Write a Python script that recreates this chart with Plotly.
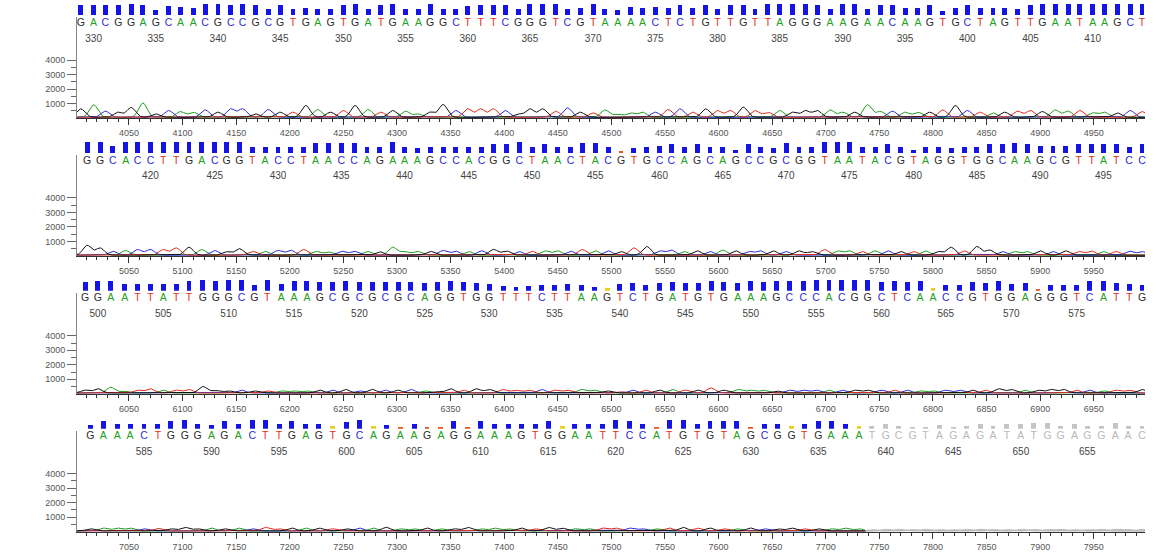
import numpy as np
import plotly.graph_objects as go

W, H = 1157, 555

# ---------------- data ----------------
scan_start = [4000, 5000, 6000, 7000]
first_base = [329, 415, 499, 581]

seq1 = "GACGGAGCAACGCCGCGTGAGTGATGAAGGCTTTCGGGTCGTAAAACTCTGTTGTTAGGGAAGAACAAGTGCTAGTTGAATAAGCT"
seq2 = "GGCACCTTGACGGTACCTAACCAGAAAGCCACGGCTAACTACGTGCCAGCAGCCGCGGTAATACGTAGGTGGCAAGCGTTATCC"
seq3 = "GGAATTATTGGGCGTAAAGCGCGCGCAGGTGGTTTCTTAAGTCTGATGTGAAAGCCCACGGCTCAACCGTGGAGGGTCATTG"
seq4 = "GAAACTGGGAGACTTGAGTGCAGAAGAGGAAAGTGGAATTCCATGTGTAGCGGTGAAATGCGTAGAGATATGGAGGAAC"

# scan offset (within panel) of each called base
pos1 = [5,17,28,40,52,63,75,87,98,110,121,133,145,156,168,180,191,203,215,226,
        238,250,261,273,285,296,308,320,331,343,355,366,378,390,401,413,424,436,448,459,
        471,483,494,506,518,529,541,553,564,576,588,599,611,623,634,646,657,669,681,692,
        704,716,727,739,751,762,774,786,797,809,821,832,844,856,867,879,891,902,914,926,
        937,949,960,972,984,995]
pos2 = [11,23,35,47,58,70,82,94,106,118,130,141,153,165,177,189,201,213,224,236,
        248,260,272,284,296,307,319,331,343,355,367,379,390,402,414,426,438,450,462,473,
        485,497,509,521,533,545,556,568,580,592,604,616,628,639,651,663,675,687,699,711,
        722,734,746,758,770,782,793,805,817,829,841,853,865,876,888,900,912,924,936,948,
        959,971,983,995]
pos3 = [9,21,33,46,58,70,82,94,106,119,131,143,155,167,179,192,204,216,228,240,
        252,265,277,289,301,313,326,338,350,362,374,386,399,411,423,435,447,459,472,484,
        496,508,520,532,545,557,569,581,593,605,618,630,642,654,666,679,691,703,715,727,
        739,752,764,776,788,800,812,825,837,849,861,873,886,898,910,922,934,946,959,971,
        983,995]
pos4 = [14,26,39,51,64,77,89,102,114,127,139,152,165,177,190,202,215,227,240,253,
        265,278,290,303,316,328,341,353,366,378,391,404,416,429,441,454,466,479,492,504,
        517,529,542,554,567,580,592,605,617,630,643,655,668,680,693,705,718,731,743,756,
        768,781,793,806,819,831,844,856,869,882,894,907,919,932,944,957,970,982,995]

# peak heights (signal units) of each called base
peak1 = [580,860,420,350,675,980,230,465,395,350,510,350,580,580,230,535,350,350,810,535,
         350,465,810,535,350,465,420,230,350,880,465,
         580,580,580,465,230,580,580,420,650,350,300,510,230,300,350,350,535,580,350,580,
         465,465,700,465,350,465,350,465,465,510,350,
         350,860,395,420,350,350,350,510,810,465,350,300,350,420,465,395,510,420,465,300,
         350,300,465,395]
peak2 = [680,500,270,320,390,390,390,500,545,390,320,230,450,270,270,320,340,390,270,230,
         270,270,270,230,545,270,270,270,320,270,
         250,300,400,300,250,270,300,300,270,390,300,300,250,500,600,300,350,250,300,250,
         350,300,250,300,300,250,300,250,390,300,300,
         250,300,300,250,250,300,250,545,300,600,350,250,250,250,300,250,300,250,280,250,
         250,280,250]
peak3 = [200,300,400,150,200,300,200,200,250,450,200,150,200,150,150,150,150,150,200,200,
         250,150,250,200,200,250,150,100,300,
         200,300,250,250,200,200,250,200,200,250,200,150,100,200,200,200,250,200,200,350,
         200,250,200,200,150,200,200,200,200,200,
         200,200,200,200,200,150,150,200,200,200,200,300,250,200,200,250,250,200,200,150,
         200,200,250]
peak4 = [150,200,200,200,150,180,150,250,150,200,150,200,150,250,150,200,200,200,150,150,
         200,200,250,150,150,200,150,150,250,150,200,150,200,150,250,200,150,150,200,200,
         200,150,150,200,250,200,200,150,150,200,150,150,200,150,150,150,200,150,100,120,
         120,100,120,100,100,120,120,100,100,120,100,100,120,100,100,120,120,100,120]

# base-call quality values
qual1 = [50,50,50,50,55,50,25,45,40,35,55,55,50,55,50,30,50,30,35,30,
         30,50,55,30,50,55,30,30,55,30,30,45,50,50,50,30,55,55,55,30,
         35,55,30,25,40,35,40,35,50,35,50,30,50,50,30,55,55,55,55,50,
         30,55,55,30,50,50,35,35,50,20,35,50,35,35,35,30,50,55,55,55,
         55,55,55,55,55,55]
qual2 = [55,55,35,55,55,55,55,55,55,55,55,55,55,30,30,30,30,30,50,50,
         50,50,30,30,55,30,25,30,30,30,
         30,30,45,45,55,30,45,30,30,50,50,30,8,25,30,35,45,30,45,30,
         30,17,45,30,25,50,30,30,55,55,55,
         30,30,45,30,17,30,30,25,30,30,45,45,50,45,35,35,35,45,45,45,
         45,30,45]
qual3 = [45,50,50,35,35,35,35,35,50,55,50,55,55,30,55,35,50,50,45,45,
         50,45,45,45,45,45,40,45,50,45,40,35,25,20,25,30,30,35,30,20,
         15,35,40,30,40,45,40,40,50,45,40,50,45,50,50,50,55,55,55,55,
         55,45,50,45,50,15,30,30,45,40,50,35,40,10,30,30,30,50,50,40,
         35,30]
qual4 = [20,40,22,22,22,25,40,45,25,20,40,22,45,42,25,40,25,22,14,35,
         45,14,20,10,22,10,10,40,10,
         38,22,22,22,25,40,14,22,22,22,42,40,22,10,42,42,25,40,40,40,
         10,22,22,14,22,40,40,22,14,
         15,25,15,10,10,20,10,15,25,15,25,25,30,30,15,25,15,15,30,15,15]

trim_from = [None, None, None, 58]   # first low-quality (grey) base index

seqs = [seq1, seq2, seq3, seq4]
poss = [pos1, pos2, pos3, pos4]
peaks = [peak1, peak2, peak3, peak4]
quals = [qual1, qual2, qual3, qual4]

y_tick_vals = [1000, 2000, 3000, 4000]

# ---------------- styling ----------------
base_color = {"A": "#21a021", "C": "#2c2cd6", "G": "#2b2b2b", "T": "#e3301e"}
trace_color = {"A": "#1f9e1f", "C": "#2a2ad8", "G": "#111111", "T": "#e02a1a"}
GREY = "#b8b8b8"
FONT = "Liberation Sans"

PX_PER_UNIT = 0.0145
panel_gap = 137.9
base0 = 118.0
x_left, x_right = 77, 1145

fig = go.Figure()
layout = dict(width=W, height=H, margin=dict(l=0, r=0, t=0, b=0),
              paper_bgcolor="white", plot_bgcolor="white", showlegend=False,
              hovermode=False)

for i in range(4):
    s0 = scan_start[i]
    seq = seqs[i]
    n = min(len(seq), len(poss[i]), len(peaks[i]), len(quals[i]))
    pos = [s0 + p for p in poss[i][:n]]
    pk = peaks[i][:n]
    ql = quals[i][:n]
    letters = list(seq[:n])
    tr = trim_from[i] if trim_from[i] is not None else n

    xa = "x" if i == 0 else f"x{i+1}"
    ya = "y" if i == 0 else f"y{i+1}"
    yb = f"y{i+5}"

    baseline = base0 + panel_gap * i
    ax_top = baseline - 101
    yr_top = 101 / PX_PER_UNIT
    bar_bot = baseline - 103
    bar_top = baseline - 115

    # --- traces (peak shapes built from the called peaks) ---
    xs = np.arange(s0, s0 + 1000, 0.5)
    split = (pos[tr - 1] + pos[tr]) / 2 if tr < n else s0 + 1000
    for ch in ["A", "C", "T", "G"]:
        for part in (0, 1):
            if part == 1 and tr >= n:
                continue
            idx = [k for k in range(n) if letters[k] == ch and ((k < tr) if part == 0 else (k >= tr))]
            sig = np.full_like(xs, 50.0)
            for k in idx:
                sig += pk[k] * np.exp(-((xs - pos[k]) ** 2) / (2 * 3.9 ** 2))
            mask = xs <= split if part == 0 else xs >= split
            fig.add_trace(go.Scatter(x=xs[mask], y=sig[mask], mode="lines",
                                     line=dict(color=trace_color[ch] if part == 0 else GREY, width=1),
                                     xaxis=xa, yaxis=ya, hoverinfo="skip"))

    # --- quality bars ---
    bcols = []
    for k in range(n):
        if k >= tr:
            bcols.append("#c4c4c4")
        elif ql[k] <= 12:
            bcols.append("#e8541c")
        elif ql[k] <= 16:
            bcols.append("#e8d020")
        else:
            bcols.append("#1414e6")
    fig.add_trace(go.Bar(x=pos, y=ql, width=4.6, marker=dict(color=bcols, line=dict(width=0)),
                         xaxis=xa, yaxis=yb, hoverinfo="skip"))

    # --- base letters ---
    lcols = [base_color[c] if k < tr else GREY for k, c in enumerate(letters)]
    fig.add_trace(go.Scatter(x=pos, y=[95 / PX_PER_UNIT] * n,
                             mode="text", text=letters,
                             textfont=dict(family=FONT, size=10.5, color=lcols),
                             xaxis=xa, yaxis=ya, cliponaxis=False, hoverinfo="skip"))

    # --- base numbers every 5 (not drawn when too close to an edge) ---
    nx, nt = [], []
    for k in range(n):
        b = first_base[i] + k
        if b % 5 == 0 and 14 <= poss[i][k] <= 975:
            nx.append(pos[k])
            nt.append(str(b))
    fig.add_trace(go.Scatter(x=nx, y=[79 / PX_PER_UNIT] * len(nx), mode="text", text=nt,
                             textfont=dict(family=FONT, size=10, color="#444444"),
                             xaxis=xa, yaxis=ya, cliponaxis=False, hoverinfo="skip"))

    xkey = "xaxis" if i == 0 else f"xaxis{i+1}"
    ykey = "yaxis" if i == 0 else f"yaxis{i+1}"
    ybkey = f"yaxis{i+5}"
    layout[xkey] = dict(
        domain=[x_left / W, x_right / W], range=[s0 + 1.5, s0 + 997.8], anchor=ya,
        tickmode="array", tickvals=list(range(s0 + 50, s0 + 1000, 50)),
        ticks="outside", ticklen=6, tickwidth=1, tickcolor="#333333",
        showline=True, linecolor="#333333", linewidth=1,
        tickfont=dict(family=FONT, size=9, color="#555555"),
        minor=dict(tickmode="array", tickvals=list(range(s0 + 10, s0 + 1000, 10)),
                   ticks="outside", ticklen=3, tickcolor="#333333"),
        showgrid=False, zeroline=False, fixedrange=True)
    layout[ykey] = dict(
        domain=[1 - baseline / H, 1 - ax_top / H], range=[0, yr_top], anchor=xa,
        tickmode="array", tickvals=y_tick_vals, ticks="outside", ticklen=9,
        tickcolor="#666666", showline=True, linecolor="#888888", linewidth=1,
        tickfont=dict(family=FONT, size=9, color="#555555"),
        minor=dict(tickmode="array", tickvals=[500, 1500, 2500, 3500], ticks="outside",
                   ticklen=5, tickcolor="#666666"),
        showgrid=False, zeroline=False, fixedrange=True)
    layout[ybkey] = dict(domain=[1 - bar_bot / H, 1 - bar_top / H], range=[0, 60],
                         anchor=xa, visible=False, fixedrange=True)

fig.update_layout(**layout)
fig.update_layout(bargap=0)
fig.write_html("out.html", config={"displayModeBar": False, "staticPlot": True},
               post_script="document.body.style.margin='0px';")
